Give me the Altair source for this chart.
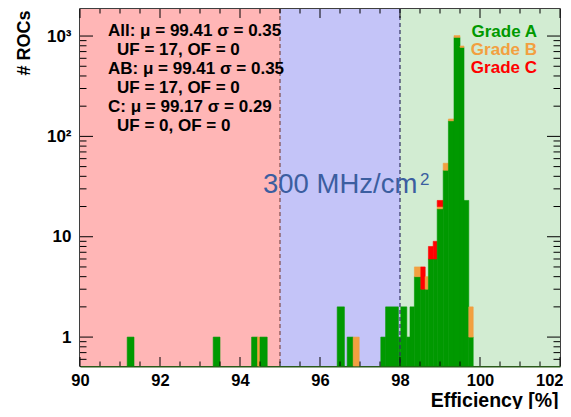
import altair as alt
import pandas as pd

# ---------------- data ----------------
bar_left = [91.18, 93.33, 94.29, 94.44, 94.50, 96.43, 96.68, 96.83, 97.52, 97.64,
            97.96, 98.02, 98.17, 98.25, 98.36, 98.52, 98.63, 98.71, 98.83, 98.93,
            99.08, 99.21, 99.35, 99.50, 99.60, 99.72]
bar_right = [91.35, 93.50, 94.44, 94.50, 94.68, 96.61, 96.83, 96.98, 97.64, 97.96,
             98.02, 98.17, 98.25, 98.36, 98.52, 98.63, 98.71, 98.83, 98.93, 99.08,
             99.21, 99.35, 99.50, 99.60, 99.72, 99.83]
grade_a = [1, 1, 1, 0, 1, 2, 1, 0, 1, 2,
           1, 2, 1, 2, 4, 3, 3, 6, 6, 19,
           46, 143, 970, 771, 23, 1]
grade_b = [0, 0, 0, 1, 0, 0, 0, 1, 0, 0,
           0, 0, 0, 0, 1, 0, 1, 0, 0, 1,
           8, 6, 40, 24, 0, 1]
grade_c = [0, 0, 0, 0, 0, 0, 0, 0, 0, 0,
           0, 0, 0, 0, 0, 2, 0, 2, 3, 3,
           0, 0, 0, 0, 0, 0]

grades = ["Grade A", "Grade B", "Grade C"]
region_lo = [90, 95, 98]
region_hi = [95, 98, 102]
cut_values = [95, 98]

x_major = [90, 92, 94, 96, 98, 100, 102]
x_minor = [90.5, 91, 91.5, 92.5, 93, 93.5, 94.5, 95, 95.5, 96.5, 97, 97.5,
           98.5, 99, 99.5, 100.5, 101, 101.5]
y_major = [1, 10, 100, 1000]
y_minor = [0.6, 0.7, 0.8, 0.9, 2, 3, 4, 5, 6, 7, 8, 9,
           20, 30, 40, 50, 60, 70, 80, 90, 200, 300, 400, 500, 600, 700, 800, 900]

stats_lines = ["All: μ = 99.41 σ = 0.35", "UF = 17, OF = 0",
               "AB: μ = 99.41 σ = 0.35", "UF = 17, OF = 0",
               "C: μ = 99.17 σ = 0.29", "UF = 0, OF = 0"]
rate_label = "300 MHz/cm"
rate_exp = "2"

# ---------------- styles ----------------
grade_colors = ["#009900", "#f2a040", "#ff0000"]
region_colors = ["#ffb6b6", "#c4c4f8", "#d2ecd2"]
cut_colors = ["#7d4b4b", "#303060"]
FONT = "Liberation Sans"
W, H = 480, 357
YMIN, YMAX = 0.515, 1860

xscale = alt.Scale(domain=[90, 102], nice=False, zero=False)
yscale = alt.Scale(type="log", domain=[YMIN, YMAX], nice=False)

x_axis = alt.Axis(values=x_major, format="d", ticks=False, grid=False,
                  domainColor="#2a5a1a", domainWidth=2,
                  labelFont=FONT, labelFontWeight="bold", labelFontSize=16.5,
                  labelColor="black", labelPadding=6, labelFlush=False,
                  labelAlign=alt.condition("datum.value == 102", alt.value("right"), alt.value("center")),
                  labelOffset=alt.condition("datum.value == 102", alt.value(3), alt.value(0)),
                  title="Efficiency [%]", titleFont=FONT, titleFontWeight="bold",
                  titleFontSize=19.5, titleColor="black", titleX=478, titleY=40,
                  titleAlign="right", titleBaseline="alphabetic")
y_axis = alt.Axis(values=y_major, ticks=False, grid=False, domainColor="black",
                  labelExpr="datum.value == 1 ? '1' : datum.value == 10 ? '10' : datum.value == 100 ? '10²' : '10³'",
                  labelFont=FONT, labelFontWeight="bold", labelFontSize=17,
                  labelColor="black", labelPadding=9,
                  title="# ROCs", titleFont=FONT, titleFontWeight="bold",
                  titleFontSize=18, titleColor="black", titleAngle=270,
                  titleX=-56, titleY=1, titleAlign="right", titleBaseline="middle")

# stacked segments
rows = []
for l, r, a, b, c in zip(bar_left, bar_right, grade_a, grade_b, grade_c):
    cum = 0
    for g, col, n in zip(grades, grade_colors, (a, b, c)):
        if n > 0:
            lo = cum if cum > 0 else YMIN
            cum += n
            rows.append(dict(x0=l, x1=r, lo=lo, hi=cum, col=col))
seg = pd.DataFrame(rows)

reg = pd.DataFrame(dict(lo=region_lo, hi=region_hi, col=region_colors))
cuts = pd.DataFrame(dict(v=cut_values, col=cut_colors))

background = alt.Chart(reg).mark_rect().encode(
    x=alt.X("lo:Q", scale=xscale, axis=x_axis), x2="hi:Q",
    y=alt.value(0), y2=alt.value(H),
    color=alt.Color("col:N", scale=None))

bars = alt.Chart(seg).mark_rect(strokeWidth=0.6).encode(
    x=alt.X("x0:Q", scale=xscale, axis=x_axis),
    x2="x1:Q",
    y=alt.Y("lo:Q", scale=yscale, axis=y_axis),
    y2="hi:Q",
    color=alt.Color("col:N", scale=None),
    stroke=alt.Stroke("col:N", scale=None))

cut_rules = alt.Chart(cuts).mark_rule(strokeDash=[4, 3], strokeWidth=1.2).encode(
    x=alt.X("v:Q", scale=xscale, axis=x_axis), y=alt.value(0), y2=alt.value(H),
    color=alt.Color("col:N", scale=None))


def xticks(vals, length, top):
    df = pd.DataFrame(dict(v=vals))
    y0 = 0 if top else H
    y1 = length if top else H - length
    return alt.Chart(df).mark_rule(color="black", strokeWidth=1).encode(
        x=alt.X("v:Q", scale=xscale, axis=x_axis), y=alt.value(y0), y2=alt.value(y1))


def yticks(vals, length, right):
    df = pd.DataFrame(dict(v=vals))
    x0 = W if right else 0
    x1 = W - length if right else length
    return alt.Chart(df).mark_rule(color="black", strokeWidth=1).encode(
        y=alt.Y("v:Q", scale=yscale, axis=y_axis), x=alt.value(x0), x2=alt.value(x1))


ticks = [xticks(x_major, 9, False), xticks(x_minor, 4.5, False),
         xticks(x_major, 9, True), xticks(x_minor, 4.5, True),
         yticks(y_major, 13, False), yticks(y_minor, 6.5, False),
         yticks(y_major, 13, True), yticks(y_minor, 6.5, True)]

stats_df = pd.DataFrame(dict(t=stats_lines,
                             px=[28 if i % 2 == 0 else 37 for i in range(len(stats_lines))],
                             py=[22 + 19 * i for i in range(len(stats_lines))]))
stats = alt.Chart(stats_df).mark_text(font=FONT, fontWeight="bold", fontSize=17,
                                      align="left", baseline="middle", color="black").encode(
    x=alt.X("px:Q", scale=None), y=alt.Y("py:Q", scale=None), text="t:N")

leg_df = pd.DataFrame(dict(t=grades, col=grade_colors,
                           py=[23 + 18.2 * i for i in range(len(grades))]))
legend = alt.Chart(leg_df).mark_text(font=FONT, fontWeight="bold", fontSize=17,
                                     align="right", baseline="middle").encode(
    x=alt.value(457), y=alt.Y("py:Q", scale=None), text="t:N",
    color=alt.Color("col:N", scale=None))

rate = alt.Chart(pd.DataFrame(dict(t=[rate_label]))).mark_text(
    font=FONT, fontSize=27.5, align="left", baseline="alphabetic", color="#3b5ea0").encode(
    x=alt.value(183), y=alt.value(184), text="t:N")
rate_sup = alt.Chart(pd.DataFrame(dict(t=[rate_exp]))).mark_text(
    font=FONT, fontSize=17, align="left", baseline="alphabetic", color="#3b5ea0").encode(
    x=alt.value(340), y=alt.value(176), text="t:N")

chart = alt.layer(background, bars, cut_rules, *ticks, stats, legend, rate, rate_sup).properties(
    width=W, height=H,
    autosize=alt.AutoSizeParams(type="none"),
    padding={"left": 72, "top": 1, "right": 3, "bottom": 43},
    background="white",
).configure_view(stroke="black", strokeWidth=1.5)

chart.save("out.html", embed_options={"renderer": "svg", "actions": False})
